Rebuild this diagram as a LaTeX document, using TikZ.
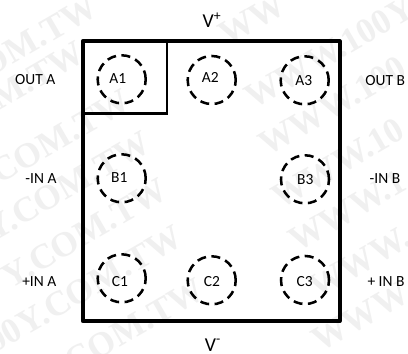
\documentclass[tikz,border=0pt]{standalone}
\usepackage{fontspec}
\setmainfont{Carlito}
\newfontfamily\markfont{Liberation Serif}
\usepackage{tikz}
\usepackage{xcolor}
\usetikzlibrary{
    positioning
}
\tikzset{
    pad/.style={circle, draw, line width=1.8pt, dash pattern=on 6.4pt off 3.9pt, minimum size=1.2cm, inner sep=0pt},
    pin/.style={inner sep=0pt, font=\fontsize{11}{13}\selectfont},
    supply/.style={inner sep=0pt, font=\fontsize{14}{16}\selectfont},
    stamp/.style={rotate=30, text=black!6, inner sep=0pt, font=\markfont\bfseries\fontsize{25}{27}\selectfont}
}
\begin{document}
\begin{tikzpicture}[x=0.025cm, y=-0.025cm]
                        \useasboundingbox (0, 0) rectangle (408, 354);
                        \fill[white] (0, 0) rectangle (408, 354);
                        % watermark
                        \foreach \x/\y/\t in {100/14/OM.TW, 87/60/COM.TW, 133/108/COM.TW, 153/150/Y.COM.TW, 170/197/Y.COM.TW, 185/244/00Y.COM.TW, 207/297/0Y COM.TW} {
                            \node[stamp, anchor=base east] at (\x, \y) {\t};
                        }
                        \foreach \x/\y/\t in {227/47/WW, 253/110/WWW.100Y., 267/157/WWW.100, 280/210/WWW.10, 297/253/WWW.1, 317/300/WWW., 320/353/WWW} {
                            \node[stamp, anchor=base west] at (\x, \y) {\t};
                        }
                        \draw[line width=2.8pt, line join=round] (82.7, 41.3) -- (339.7, 41.3) -- (339.7, 321) -- (82.7, 321) -- cycle;
                        \draw[line width=1.9pt] (82.7, 113.3) -- (167, 113.3) -- (167, 41.3);
                        \node[pad] (a1) at (121.7, 79.3) {};
                        \node[pad] (a2) at (211.7, 80) {};
                        \node[pad] (a3) at (304.7, 80.3) {};
                        \node[pad] (b1) at (121.7, 178.3) {};
                        \node[pad] (b3) at (305, 179.3) {};
                        \node[pad] (c1) at (121.7, 278.3) {};
                        \node[pad] (c2) at (211.7, 280.3) {};
                        \node[pad] (c3) at (305, 280) {};
                        \node[pin] (a1t) at (117.7, 78.3) {A1};
                        \node[pin] (a2t) at (210.3, 77.7) {A2};
                        \node[pin] (a3t) at (303.7, 81) {A3};
                        \node[pin] (b1t) at (119.3, 178) {B1};
                        \node[pin] (b3t) at (305.3, 179.3) {B3};
                        \node[pin] (c1t) at (120, 282) {C1};
                        \node[pin] (c2t) at (212, 282) {C2};
                        \node[pin] (c3t) at (304.7, 281.3) {C3};
                        \node[supply] (vplus) at (212, 20) {V\textsuperscript{+}};
                        \node[supply] (vminus) at (213, 345) {V\textsuperscript{-}};
                        \node[pin] (outa) at (35.3, 79.3) {OUT A};
                        \node[pin] (ina) at (41, 179) {-IN A};
                        \node[pin] (pina) at (39.3, 282) {+IN A};
                        \node[pin] (outb) at (385.3, 80.3) {OUT B};
                        \node[pin] (inb) at (385, 179) {-IN B};
                        \node[pin] (pinb) at (386, 282) {+ IN B};
                    \end{tikzpicture}
\end{document}
